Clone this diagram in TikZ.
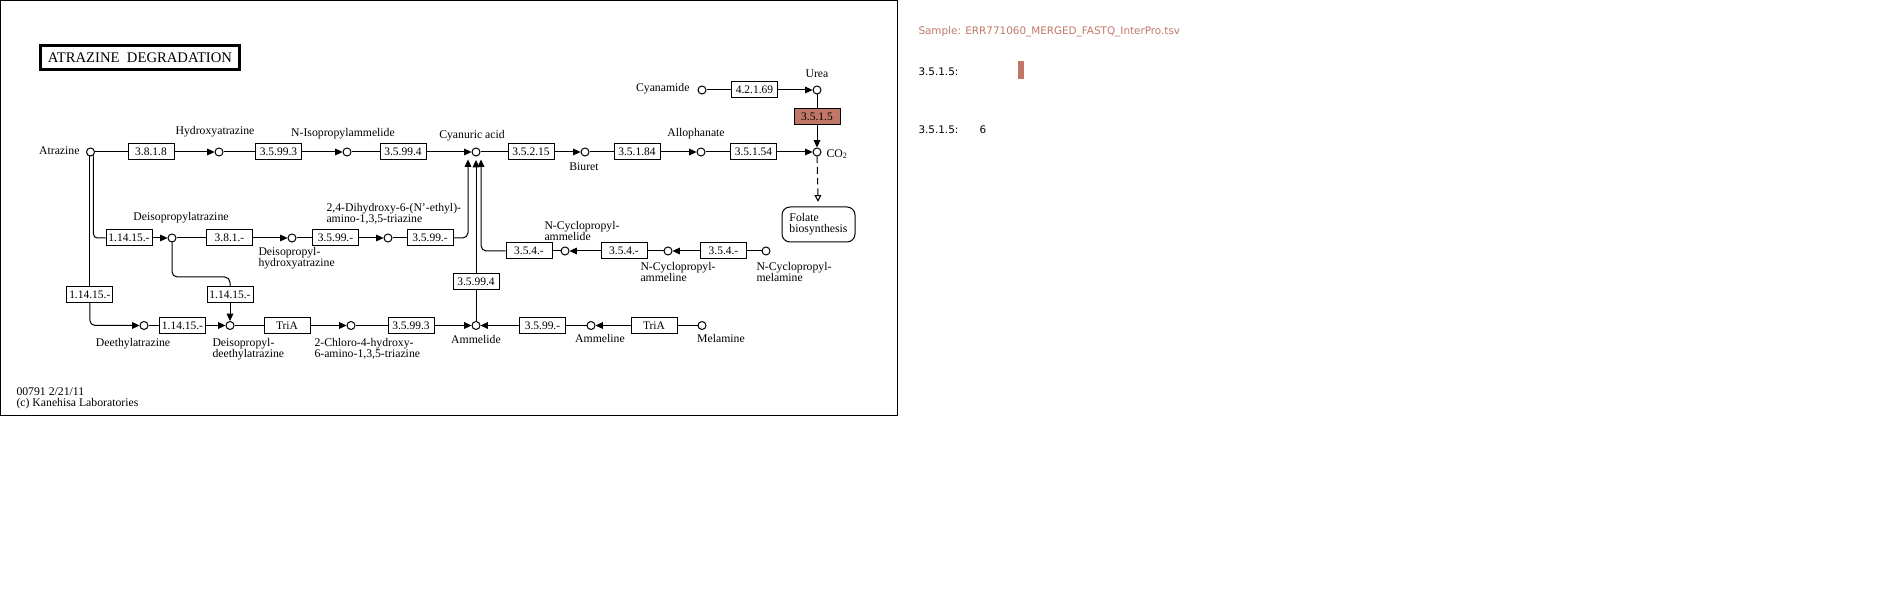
\documentclass[tikz,border=0pt]{standalone}
\usepackage{fontspec}
\setmainfont{Liberation Serif}
\newfontfamily\samplefont{DejaVu Sans}
\usetikzlibrary{arrows.meta,positioning,calc}
\definecolor{Hit}{HTML}{C07768}
\setlength{\lineskiplimit}{-6pt}

\tikzset{
  cpd/.style={draw,circle,inner sep=0pt,minimum size=6pt},
  enz/.style={draw,rectangle,inner sep=0pt,minimum width=34.5pt,minimum height=12pt,
    font=\fontsize{8.6}{9}\selectfont},
  lbl/.style={inner sep=0pt,align=left,font=\fontsize{8.8}{8.2}\selectfont},
  rxn/.style={-{Triangle[length=5.5pt,width=5pt]}},
  side/.style={inner sep=0pt,anchor=west,font=\samplefont\fontsize{7.8}{9}\selectfont},
}

\begin{document}
\begin{tikzpicture}[x=0.75pt,y=-0.75pt,line width=0.75pt]
  \useasboundingbox (0,0) rectangle (1904,616);
  \draw (0.5,0.5) rectangle (897.5,415.5);

  % title and footer
  \node[draw,line width=2.2pt,minimum width=149pt,minimum height=18pt,
    font=\fontsize{11}{12}\selectfont] (title) at (140,57.5) {ATRAZINE\ \ DEGRADATION};
  \node[lbl,anchor=north west] (footer) at (16,387) {00791 2/21/11\\(c) Kanehisa Laboratories};

  % compounds
  \node[cpd] (atr) at (90.5,152) {};
  \node[cpd] (hyd) at (219,152) {};
  \node[cpd] (nis) at (347,152) {};
  \node[cpd] (cya) at (476,152) {};
  \node[cpd] (biu) at (585,152) {};
  \node[cpd] (allo) at (701,152) {};
  \node[cpd] (co2) at (817,152) {};
  \node[cpd] (cyn) at (702,90) {};
  \node[cpd] (urea) at (817,90) {};
  \node[cpd] (dip) at (172,238) {};
  \node[cpd] (diph) at (292,238) {};
  \node[cpd] (dhe) at (388,238) {};
  \node[cpd] (ncad) at (565,251) {};
  \node[cpd] (ncan) at (668,251) {};
  \node[cpd] (ncm) at (766,251) {};
  \node[cpd] (deet) at (144,325.5) {};
  \node[cpd] (dide) at (230,325.5) {};
  \node[cpd] (chl) at (351,325.5) {};
  \node[cpd] (amd) at (476,325.5) {};
  \node[cpd] (amn) at (591,325.5) {};
  \node[cpd] (mel) at (702,325.5) {};
  \coordinate (cyaL) at (468,159.5);
  \coordinate (cyaR) at (481,159.5);
  \coordinate (dbend) at (200,277);

  % compound labels
  \node[lbl,anchor=east] (atrL) at (80,151) {Atrazine};
  \node[lbl] (hydL) at (215,132) {Hydroxyatrazine};
  \node[lbl] (nisL) at (343,134) {N-Isopropylammelide};
  \node[lbl] (cyaL2) at (472,136) {Cyanuric acid};
  \node[lbl] (biuL) at (584,167) {Biuret};
  \node[lbl] (alloL) at (696,134) {Allophanate};
  \node[lbl,anchor=west] (co2L) at (826,154) {CO\textsubscript{2}};
  \node[lbl,anchor=east] (cynL) at (690,89) {Cyanamide};
  \node[lbl] (ureaL) at (817,74) {Urea};
  \node[lbl] (dipL) at (181,218) {Deisopropylatrazine};
  \node[lbl,anchor=north west] (diphL) at (258,247) {Deisopropyl-\\hydroxyatrazine};
  \node[lbl,anchor=south west] (dheL) at (326,225) {2,4-Dihydroxy-6-(N'-ethyl)-\\amino-1,3,5-triazine};
  \node[lbl,anchor=south west] (ncadL) at (544,241) {N-Cyclopropyl-\\ammelide};
  \node[lbl,anchor=north west] (ncanL) at (640,262) {N-Cyclopropyl-\\ammeline};
  \node[lbl,anchor=north west] (ncmL) at (756,262) {N-Cyclopropyl-\\melamine};
  \node[lbl] (deetL) at (133,344) {Deethylatrazine};
  \node[lbl,anchor=north west] (dideL) at (212,338) {Deisopropyl-\\deethylatrazine};
  \node[lbl,anchor=north west] (chlL) at (314,338) {2-Chloro-4-hydroxy-\\6-amino-1,3,5-triazine};
  \node[lbl] (amdL) at (476,339) {Ammelide};
  \node[lbl] (amnL) at (600,338) {Ammeline};
  \node[lbl] (melL) at (721,338) {Melamine};
  \node[draw,rounded corners=6pt,minimum width=54.75pt,minimum height=26.25pt,inner sep=2pt,
    align=left,font=\fontsize{8.8}{8.2}\selectfont] (folate) at (818.5,224.5)
    {Folate\\biosynthesis};

  % enzymes
  \node[enz] (ec3818) at (151,152) {3.8.1.8};
  \node[enz] (ec35993) at (278.5,152) {3.5.99.3};
  \node[enz] (ec35994) at (403,152) {3.5.99.4};
  \node[enz] (ec35215) at (531,152) {3.5.2.15};
  \node[enz] (ec35184) at (637,152) {3.5.1.84};
  \node[enz] (ec35154) at (753.5,152) {3.5.1.54};
  \node[enz] (ec42169) at (754.5,90) {4.2.1.69};
  \node[enz,fill=Hit] (ec3515) at (817,116.5) {3.5.1.5};
  \node[enz] (ec11415a) at (129,238) {1.14.15.-};
  \node[enz] (ec381) at (229.5,238) {3.8.1.-};
  \node[enz] (ec3599a) at (335.5,238) {3.5.99.-};
  \node[enz] (ec3599b) at (430,238) {3.5.99.-};
  \node[enz] (ec11415b) at (89.8,294.5) {1.14.15.-};
  \node[enz] (ec11415c) at (230,295) {1.14.15.-};
  \node[enz] (ec11415d) at (182.5,325.5) {1.14.15.-};
  \node[enz] (tria) at (287,325.5) {TriA};
  \node[enz] (ec35993b) at (411,325.5) {3.5.99.3};
  \node[enz] (ec35994b) at (476,282) {3.5.99.4};
  \node[enz] (ec3599c) at (542.5,325.5) {3.5.99.-};
  \node[enz] (trib) at (654,325.5) {TriA};
  \node[enz] (ec354a) at (529,251) {3.5.4.-};
  \node[enz] (ec354b) at (624,251) {3.5.4.-};
  \node[enz] (ec354c) at (723.5,251) {3.5.4.-};

  % main route
  \draw (atr) -- (ec3818);
  \draw[rxn] (ec3818) -- (hyd);
  \draw (hyd) -- (ec35993);
  \draw[rxn] (ec35993) -- (nis);
  \draw (nis) -- (ec35994);
  \draw[rxn] (ec35994) -- (cya);
  \draw (cya) -- (ec35215);
  \draw[rxn] (ec35215) -- (biu);
  \draw (biu) -- (ec35184);
  \draw[rxn] (ec35184) -- (allo);
  \draw (allo) -- (ec35154);
  \draw[rxn] (ec35154) -- (co2);
  \draw (cyn) -- (ec42169);
  \draw[rxn] (ec42169) -- (urea);
  \draw (urea) -- (ec3515);
  \draw[rxn] (ec3515) -- (co2);
  \draw[dash pattern=on 5pt off 3pt,-{Triangle[open,length=5pt,width=5pt]},shorten >=3.5pt]
    (co2) -- (folate);

  % deisopropyl branch
  \draw[rounded corners=3pt] (atr.-50) |- (ec11415a);
  \draw[rxn] (ec11415a) -- (dip);
  \draw (dip) -- (ec381);
  \draw[rxn] (ec381) -- (diph);
  \draw (diph) -- (ec3599a);
  \draw[rxn] (ec3599a) -- (dhe);
  \draw (dhe) -- (ec3599b);
  \draw[rxn,rounded corners=4pt] (ec3599b) -| (cyaL);
  \draw[rounded corners=4pt] (dip) |- (dbend) -| (ec11415c);
  \draw[rxn] (ec11415c) -- (dide);

  % deethyl branch
  \draw (atr.-100) -- (ec11415b.north -| atr.-100);
  \draw[rxn,rounded corners=4pt] (ec11415b) |- (deet);
  \draw (deet) -- (ec11415d);
  \draw[rxn] (ec11415d) -- (dide);
  \draw (dide) -- (tria);
  \draw[rxn] (tria) -- (chl);
  \draw (chl) -- (ec35993b);
  \draw[rxn] (ec35993b) -- (amd);
  \draw (mel) -- (trib);
  \draw[rxn] (trib) -- (amn);
  \draw (amn) -- (ec3599c);
  \draw[rxn] (ec3599c) -- (amd);
  \draw (amd) -- (ec35994b);
  \draw[rxn,shorten >=2.6pt] (ec35994b) -- (cya);

  % cyclopropyl branch
  \draw (ncm) -- (ec354c);
  \draw[rxn] (ec354c) -- (ncan);
  \draw (ncan) -- (ec354b);
  \draw[rxn] (ec354b) -- (ncad);
  \draw (ncad) -- (ec354a);
  \draw[rxn,rounded corners=4pt] (ec354a) -| (cyaR);

  % sample panel
  \node[side,text=Hit] (sample) at (918,32) {Sample: ERR771060\_MERGED\_FASTQ\_InterPro.tsv};
  \node[side] (hitA) at (918,72) {3.5.1.5:};
  \fill[Hit] (1018,61) rectangle (1024,79);
  \node[side] (hitB) at (918,130) {3.5.1.5:};
  \node[side] (hitN) at (979,130) {6};
\end{tikzpicture}
\end{document}
